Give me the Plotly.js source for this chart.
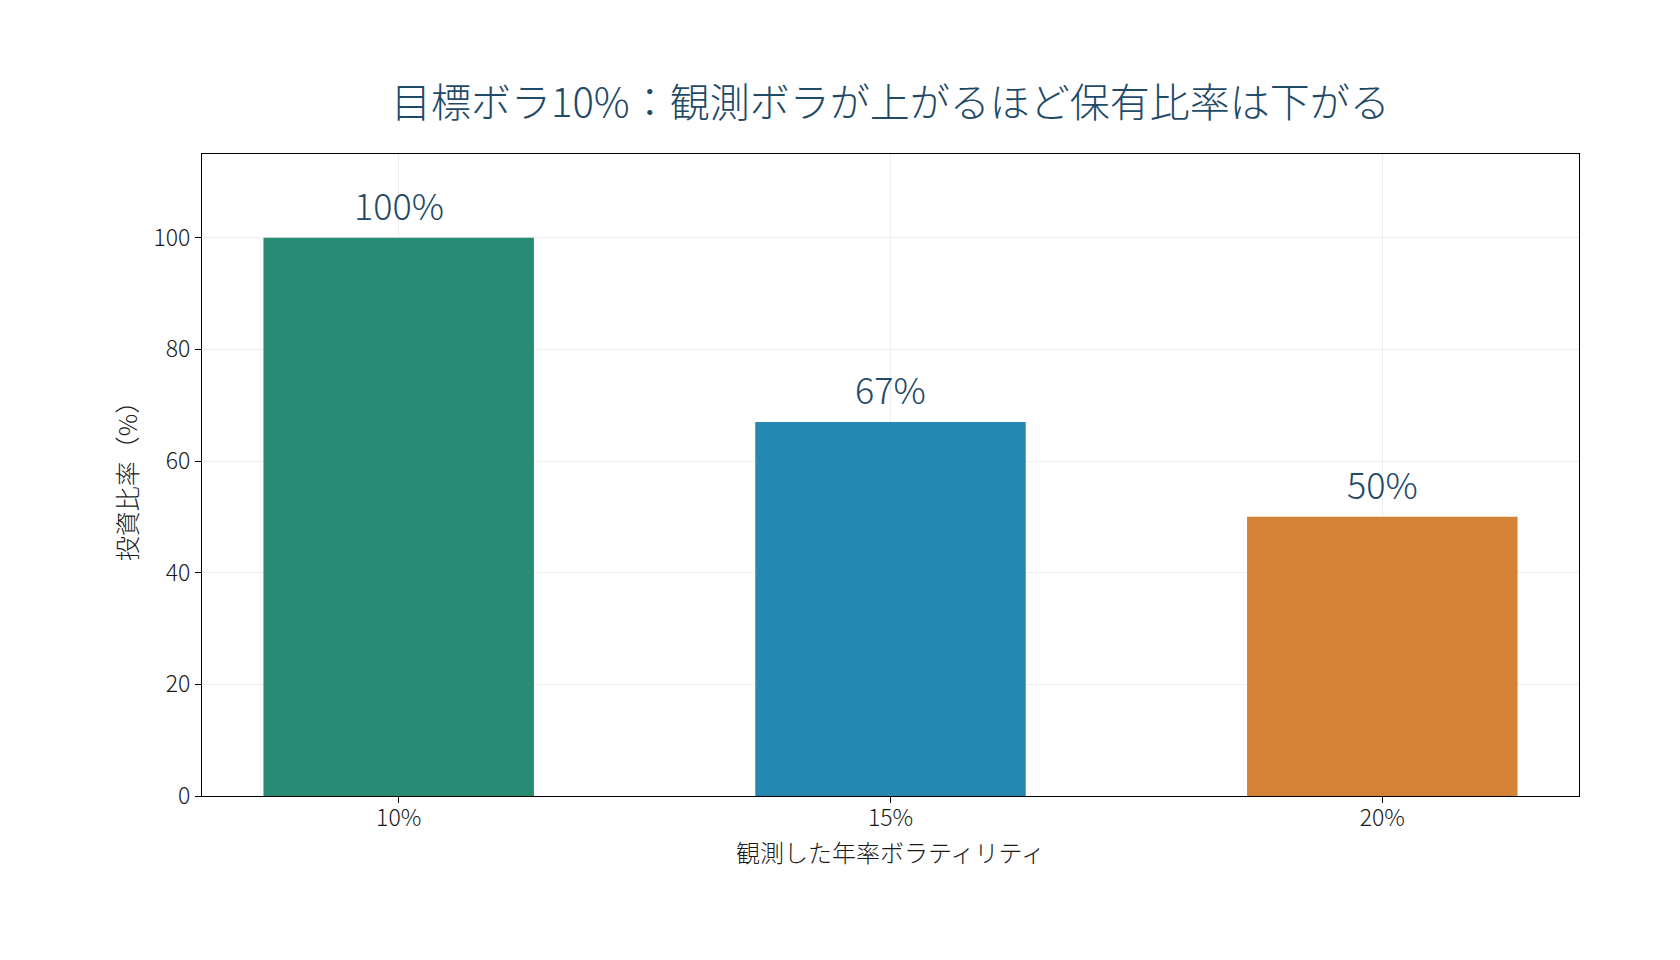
<!DOCTYPE html>
<html>
<head>
<meta charset="utf-8">
<script src="https://cdn.plot.ly/plotly-3.0.1.min.js"></script>
<style>html,body{margin:0;padding:0;background:#fff;}#chart{width:1680px;height:960px;}</style>
</head>
<body>
<div id="chart"></div>
<script>
const categories = ["10%", "15%", "20%"];
const weights = [100, 67, 50];
const labels = ["100%", "67%", "50%"];
const colors = ["#2a8b74", "#2488b0", "#d48336"];
const titleText = "目標ボラ10%：観測ボラが上がるほど保有比率は下がる";
const xTitle = "観測した年率ボラティリティ";
const yTitle = "投資比率（%）";

const font = "Noto Sans CJK JP Light, Noto Sans CJK JP, Noto Sans, sans-serif";
const W = 300;
const trace = {
  type: "bar",
  x: categories,
  y: weights,
  marker: {color: colors, line: {width: 0}},
  width: 0.55,
  hoverinfo: "skip"
};
const annotations = categories.map((c, i) => ({
  x: c, y: weights[i], xref: "x", yref: "y",
  text: labels[i], showarrow: false,
  xanchor: "center", yanchor: "bottom", yshift: 6,
  font: {family: font, weight: W, size: 36, color: "#1f4a68"}
}));
annotations.push({
  x: 0.5, y: -0.086, xref: "paper", yref: "paper",
  text: xTitle, showarrow: false, xanchor: "center", yanchor: "middle",
  font: {family: font, weight: W, size: 24, color: "#1a1a1a"}
});
const layout = {
  width: 1680, height: 960,
  margin: {l: 202, r: 101, t: 154, b: 164},
  paper_bgcolor: "#ffffff", plot_bgcolor: "#ffffff",
  font: {family: font, weight: W, color: "#222"},
  title: {text: titleText, x: 0.53, xanchor: "center", y: 0.893, yanchor: "middle",
          font: {family: font, weight: W, size: 40, color: "#1f4a68"}},
  showlegend: false,
  annotations: annotations,
  xaxis: {
    type: "category", range: [-0.4, 2.4],
    showline: true, linecolor: "#000", linewidth: 1, mirror: true,
    ticks: "outside", ticklen: 6, tickcolor: "#000",
    ticklabelstandoff: -5,
    showgrid: true, gridcolor: "#eeeeee", gridwidth: 1,
    tickfont: {family: font, weight: W, size: 23, color: "#1a1a1a"}
  },
  yaxis: {
    range: [0, 115], tickvals: [0, 20, 40, 60, 80, 100],
    showline: true, linecolor: "#000", linewidth: 1, mirror: true,
    ticks: "outside", ticklen: 6, tickcolor: "#000",
    showgrid: true, gridcolor: "#eeeeee", gridwidth: 1, zeroline: false,
    tickfont: {family: font, weight: W, size: 23, color: "#1a1a1a"},
    title: {text: yTitle, font: {family: font, weight: W, size: 25, color: "#1a1a1a"}, standoff: 8}
  }
};
Plotly.newPlot("chart", [trace], layout, {displayModeBar: false, staticPlot: true});
</script>
</body>
</html>
